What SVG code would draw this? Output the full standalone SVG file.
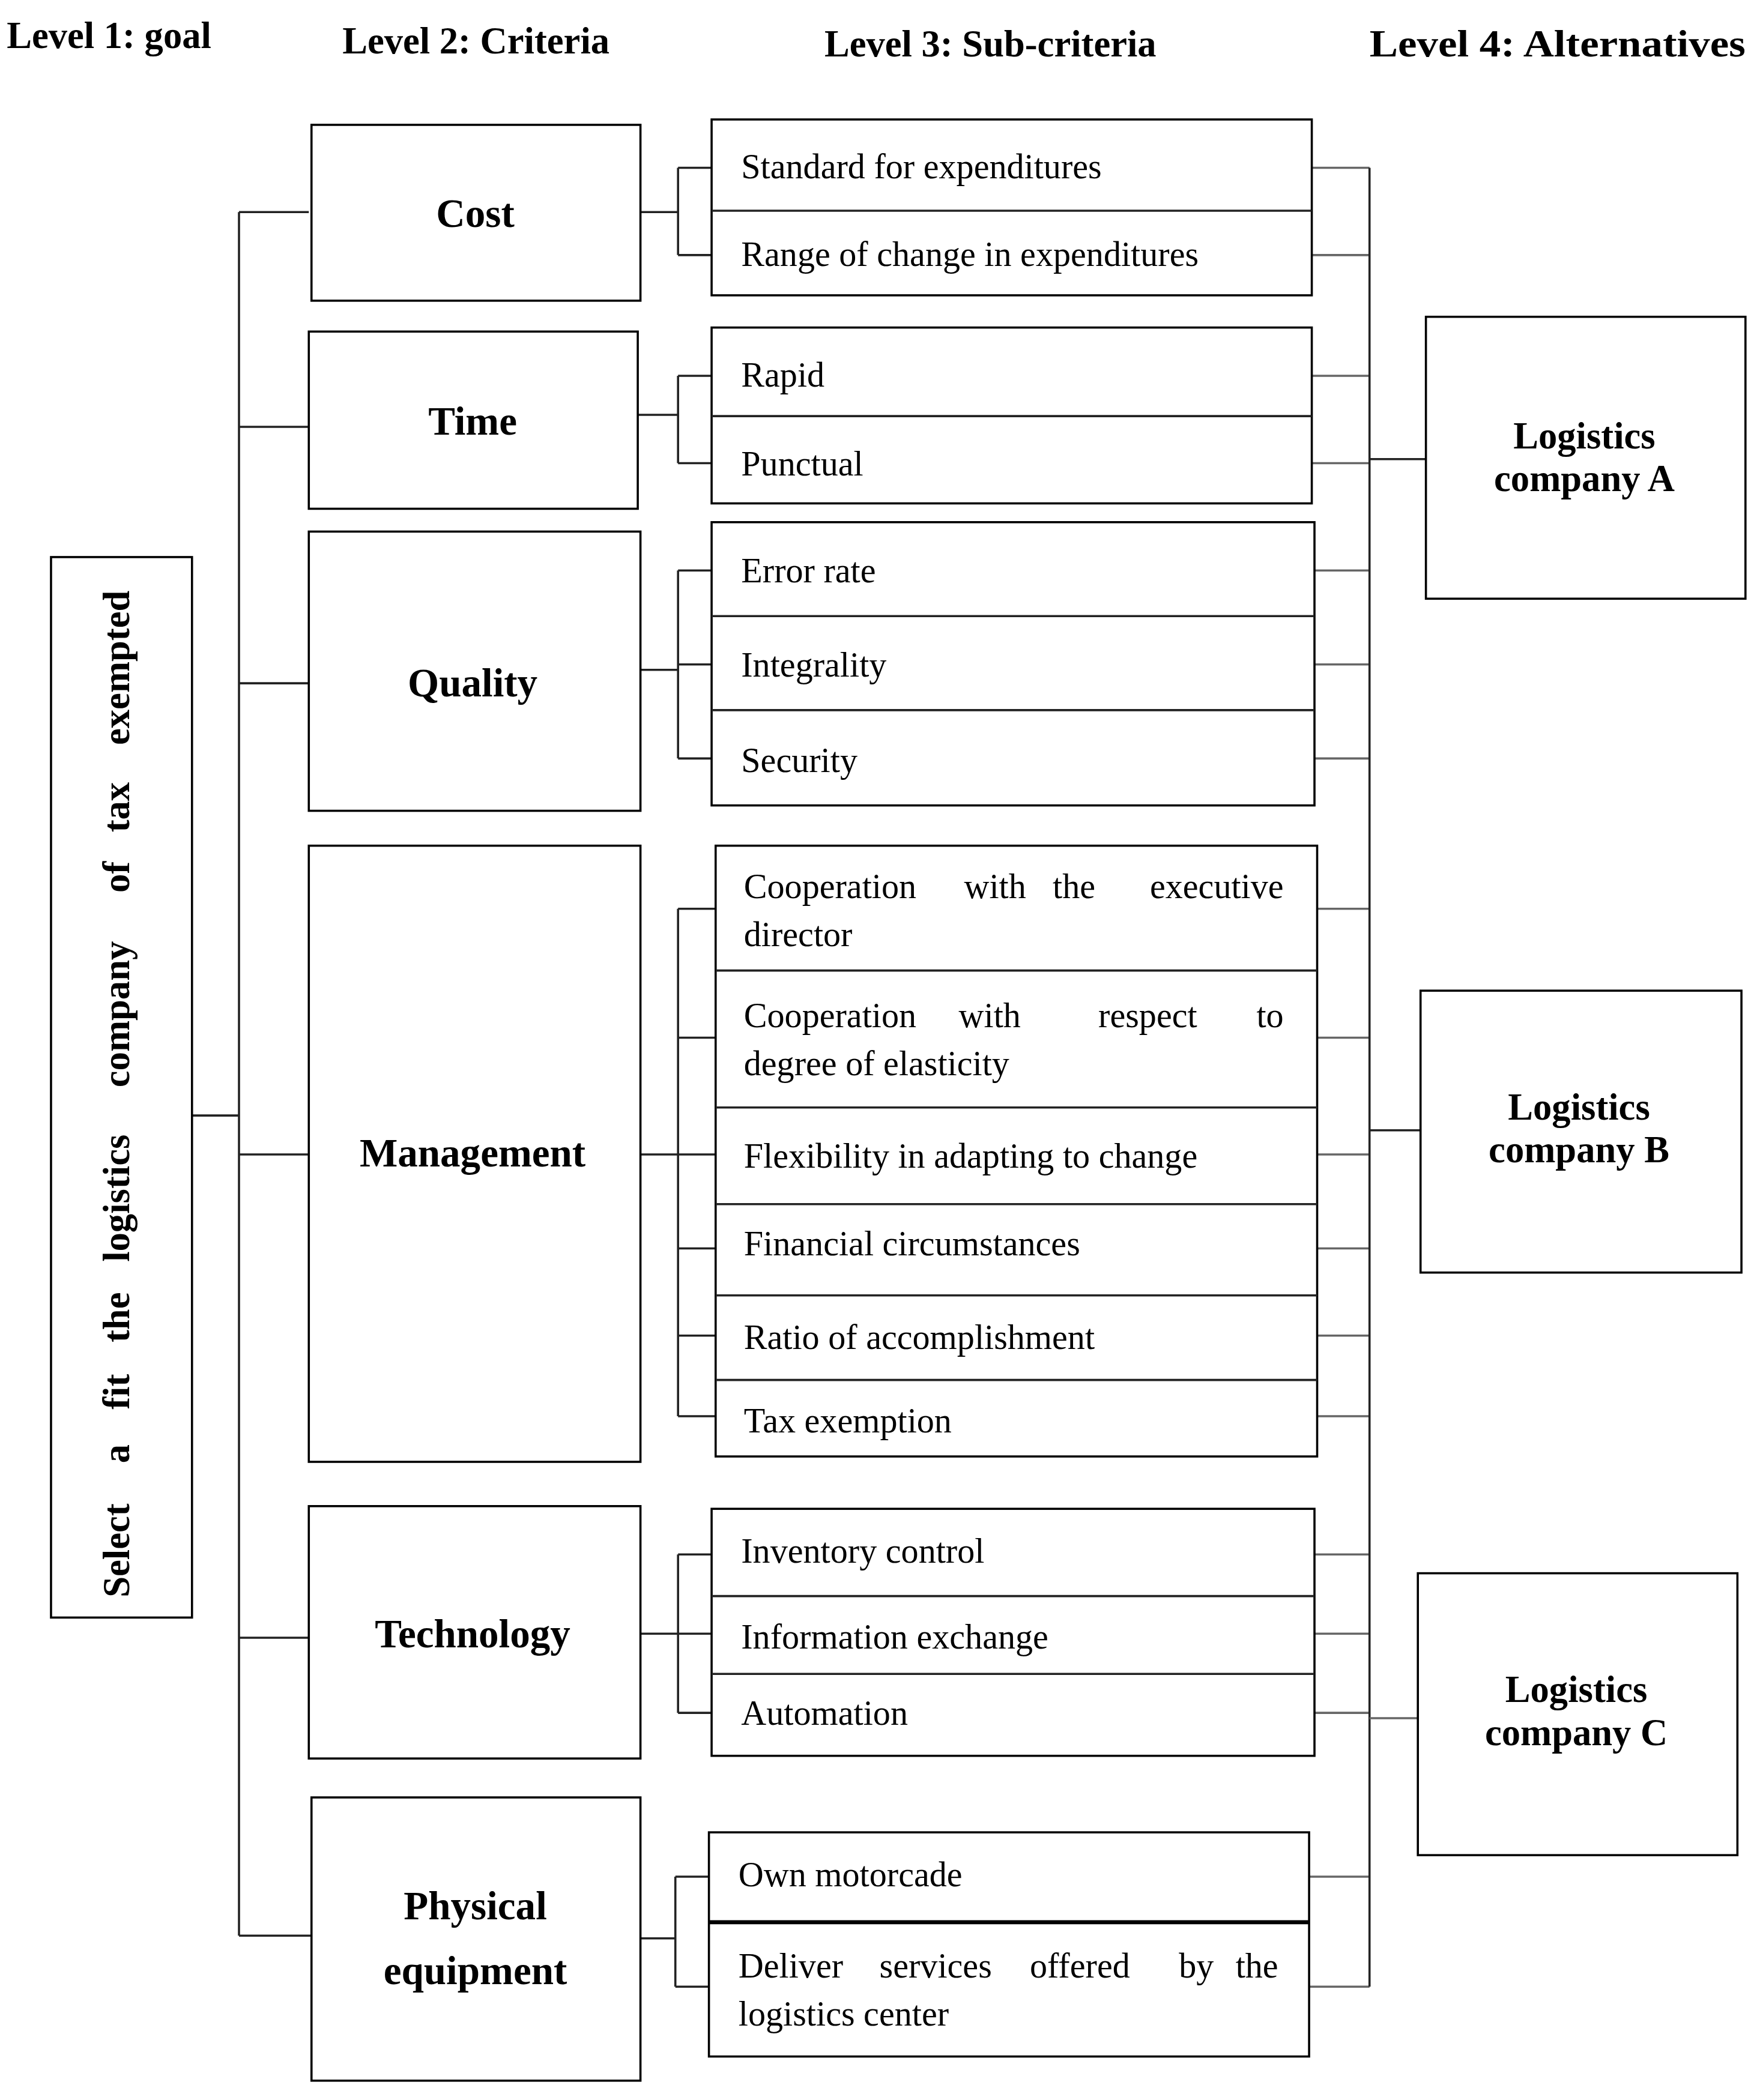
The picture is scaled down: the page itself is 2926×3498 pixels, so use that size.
<svg xmlns="http://www.w3.org/2000/svg" width="2926" height="3498" viewBox="0 0 2926 3498">
<style>
.b{fill:#fff;stroke:#000;stroke-width:1.6}
.h{font-family:"Liberation Serif",serif;font-weight:bold;font-size:28px;fill:#000}
.c{font-family:"Liberation Serif",serif;font-weight:bold;font-size:30px;fill:#000;text-anchor:middle}
.a{font-family:"Liberation Serif",serif;font-weight:bold;font-size:28px;fill:#000;text-anchor:middle}
.t{font-family:"Liberation Serif",serif;font-size:26px;fill:#000}
.e{text-anchor:end}
.l{fill:none;stroke:#222;stroke-width:1.6}
.g{fill:none;stroke:#666;stroke-width:1.6}
</style>
<rect width="2926" height="3498" fill="#fff"/>
<g transform="scale(2.236)">
<g id="headers">
<text class="h" x="5" y="36">Level 1: goal</text>
<text class="h" x="255" y="40">Level 2: Criteria</text>
<text class="h" x="614" y="42">Level 3: Sub-criteria</text>
<text class="h" x="1020" y="42" textLength="280" lengthAdjust="spacingAndGlyphs">Level 4: Alternatives</text>
</g>
<g id="connectors">
<path class="l" d="M143 831H178M178 158V1442M178 158H230M178 318H230M178 509H230M178 860H230M178 1220H230M178 1442H232"/>
<path class="l" d="M477 158H505M505 125V190M505 125H530M505 190H530"/>
<path class="l" d="M475 309H505M505 280V345M505 280H530M505 345H530"/>
<path class="l" d="M477 499H505M505 425V565M505 425H530M505 495H530M505 565H530"/>
<path class="l" d="M477 860H505M505 677V1055M505 677H533M505 773H533M505 860H533M505 930H533M505 995H533M505 1055H533"/>
<path class="l" d="M477 1217H505M505 1158V1276M505 1158H530M505 1217H530M505 1276H530"/>
<path class="l" d="M477 1444H503M503 1398V1480M503 1398H528M503 1480H528"/>
<path class="g" d="M977 125H1020M977 190H1020M977 280H1020M977 345H1020M979 425H1020M979 495H1020M979 565H1020M981 677H1020M981 773H1020M981 860H1020M981 930H1020M981 995H1020M981 1055H1020M979 1158H1020M979 1217H1020M979 1276H1020M975 1398H1020M975 1480H1020"/>
<path class="l" d="M1020 125V1480M1020 342H1062M1020 842H1058"/>
<path class="g" d="M1020 1280H1056"/>
</g>
<g id="goal">
<rect class="b" x="38" y="415" width="105" height="790"/>
<text class="h" transform="translate(96,1190) rotate(-90)"><tspan x="0">Select</tspan><tspan x="100">a</tspan><tspan x="140">fit</tspan><tspan x="190">the</tspan><tspan x="250">logistics</tspan><tspan x="380">company</tspan><tspan x="525">of</tspan><tspan x="570">tax</tspan><tspan x="635">exempted</tspan></text>
</g>
<g id="cost"><rect class="b" x="232" y="93" width="245" height="131"/><text class="c" x="354" y="169">Cost</text></g>
<g id="time"><rect class="b" x="230" y="247" width="245" height="132"/><text class="c" x="352" y="324">Time</text></g>
<g id="quality"><rect class="b" x="230" y="396" width="247" height="208"/><text class="c" x="352" y="519">Quality</text></g>
<g id="management"><rect class="b" x="230" y="630" width="247" height="459"/><text class="c" x="352" y="869">Management</text></g>
<g id="technology"><rect class="b" x="230" y="1122" width="247" height="188"/><text class="c" x="352" y="1227">Technology</text></g>
<g id="physical"><rect class="b" x="232" y="1339" width="245" height="211"/><text class="c" x="354" y="1430">Physical</text><text class="c" x="354" y="1478">equipment</text></g>
<g id="sub-cost"><rect class="b" x="530" y="89" width="447" height="131"/><path class="l" d="M530 157H977"/>
<text class="t" x="552" y="133">Standard for expenditures</text><text class="t" x="552" y="198">Range of change in expenditures</text></g>
<g id="sub-time"><rect class="b" x="530" y="244" width="447" height="131"/><path class="l" d="M530 310H977"/>
<text class="t" x="552" y="288">Rapid</text><text class="t" x="552" y="354">Punctual</text></g>
<g id="sub-quality"><rect class="b" x="530" y="389" width="449" height="211"/><path class="l" d="M530 459H979M530 529H979"/>
<text class="t" x="552" y="434">Error rate</text><text class="t" x="552" y="504">Integrality</text><text class="t" x="552" y="575">Security</text></g>
<g id="sub-management"><rect class="b" x="533" y="630" width="448" height="455"/><path class="l" d="M533 723H981M533 825H981M533 897H981M533 965H981M533 1028H981"/>
<text class="t" x="554" y="669">Cooperation</text><text class="t" x="718" y="669">with</text><text class="t" x="784" y="669">the</text><text class="t e" x="956" y="669">executive</text>
<text class="t" x="554" y="705">director</text>
<text class="t" x="554" y="765">Cooperation</text><text class="t" x="714" y="765">with</text><text class="t" x="818" y="765">respect</text><text class="t e" x="956" y="765">to</text>
<text class="t" x="554" y="801">degree of elasticity</text>
<text class="t" x="554" y="870">Flexibility in adapting to change</text>
<text class="t" x="554" y="935">Financial circumstances</text>
<text class="t" x="554" y="1005">Ratio of accomplishment</text>
<text class="t" x="554" y="1067">Tax exemption</text></g>
<g id="sub-technology"><rect class="b" x="530" y="1124" width="449" height="184"/><path class="l" d="M530 1189H979M530 1247H979"/>
<text class="t" x="552" y="1164">Inventory control</text><text class="t" x="552" y="1228">Information exchange</text><text class="t" x="552" y="1285">Automation</text></g>
<g id="sub-physical"><rect class="b" x="528" y="1365" width="447" height="167"/><path d="M528 1432H975" stroke="#000" stroke-width="3"/>
<text class="t" x="550" y="1405">Own motorcade</text>
<text class="t" x="550" y="1473">Deliver</text><text class="t" x="655" y="1473">services</text><text class="t" x="767" y="1473">offered</text><text class="t" x="878" y="1473">by</text><text class="t e" x="952" y="1473">the</text>
<text class="t" x="550" y="1509">logistics center</text></g>
<g id="alt-a"><rect class="b" x="1062" y="236" width="238" height="210"/><text class="a" x="1180" y="334">Logistics</text><text class="a" x="1180" y="366">company A</text></g>
<g id="alt-b"><rect class="b" x="1058" y="738" width="239" height="210"/><text class="a" x="1176" y="834">Logistics</text><text class="a" x="1176" y="866">company B</text></g>
<g id="alt-c"><rect class="b" x="1056" y="1172" width="238" height="210"/><text class="a" x="1174" y="1268">Logistics</text><text class="a" x="1174" y="1300">company C</text></g>
</g>
</svg>
